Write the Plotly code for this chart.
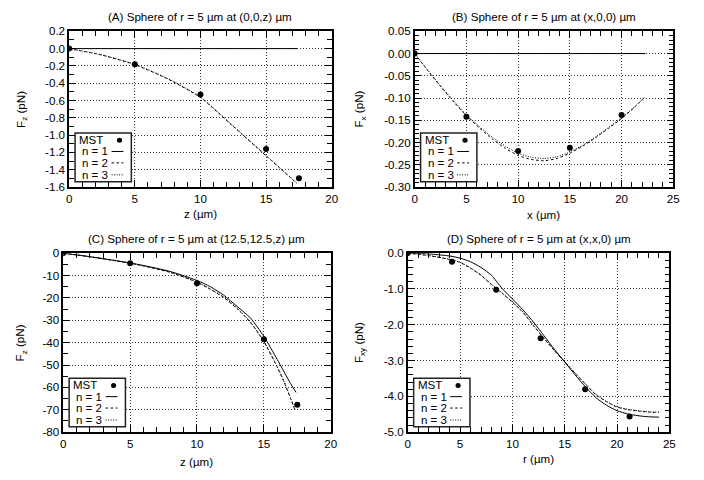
import plotly.graph_objects as go

# ---------------- data ----------------
# Panel A: sphere at (0,0,z)
a_mst_x = [0, 5, 10, 15, 17.5]
a_mst_y = [0.0, -0.18, -0.53, -1.16, -1.50]
a_n1_x = [0, 17.4]
a_n1_y = [0.0, 0.0]
a_n2_x = [0, 2.5, 5, 7.5, 10, 12.5, 15, 17.35]
a_n2_y = [0.0, -0.075, -0.185, -0.35, -0.565, -0.9, -1.24, -1.56]
a_n3_x = [0, 2.5, 5, 7.5, 10, 12.5, 15, 17.35]
a_n3_y = [0.0, -0.073, -0.182, -0.345, -0.56, -0.895, -1.235, -1.555]

# Panel B: sphere at (x,0,0)
b_mst_x = [0, 5, 10, 15, 20]
b_mst_y = [0.0, -0.142, -0.219, -0.212, -0.138]
b_n1_x = [0, 22.3]
b_n1_y = [0.0, 0.0]
b_n_x = [0, 1.25, 2.5, 3.75, 5, 6.25, 7.5, 8.75, 10, 11.25, 12.5, 13.75, 15,
         16.25, 17.5, 18.75, 20, 21.25, 22.3]
b_n2_y = [0.0, -0.038, -0.074, -0.108, -0.140, -0.167, -0.192, -0.213, -0.229,
          -0.238, -0.241, -0.236, -0.224, -0.208, -0.189, -0.168, -0.146, -0.121, -0.097]
b_n3_y = [0.0, -0.037, -0.072, -0.106, -0.138, -0.164, -0.188, -0.208, -0.224,
          -0.233, -0.236, -0.232, -0.221, -0.206, -0.187, -0.166, -0.144, -0.120, -0.096]

# Panel C: sphere at (12.5,12.5,z)
c_mst_x = [0, 5, 10, 15, 17.5]
c_mst_y = [0.0, -4.5, -13.5, -38.5, -67.7]
c_n1_x = [0, 2, 4, 5, 6, 8, 10, 11, 12, 13, 14, 15, 16, 17, 17.4]
c_n1_y = [0.0, -1.6, -3.4, -4.4, -5.5, -8.2, -12.2, -15.0, -18.8, -23.8, -29.0,
          -37.2, -47.5, -58.3, -62.2]
c_n2_x = [0, 2, 4, 5, 6, 8, 10, 11, 12, 13, 14, 15, 16, 16.5, 17, 17.35]
c_n2_y = [0.0, -1.6, -3.5, -4.5, -5.7, -8.6, -13.0, -16.2, -19.8, -24.8, -31.0,
          -39.5, -51.0, -57.5, -65.0, -70.5]
c_n3_y = [0.0, -1.6, -3.5, -4.5, -5.7, -8.5, -12.9, -16.0, -19.6, -24.6, -30.8,
          -39.3, -50.7, -57.2, -64.7, -70.2]

# Panel D: sphere at (x,x,0)
d_mst_x = [0, 4.23, 8.45, 12.7, 16.95, 21.2]
d_mst_y = [0.0, -0.24, -1.02, -2.38, -3.80, -4.56]
d_n_x = [0, 2, 4, 5, 6, 7, 8, 9, 10, 11, 12, 13, 14, 15, 16, 17, 18, 19, 20,
         21, 22, 23, 24]
d_n1_y = [0.0, -0.02, -0.08, -0.14, -0.24, -0.40, -0.62, -0.98, -1.28, -1.58,
          -1.92, -2.30, -2.68, -3.04, -3.40, -3.74, -4.04, -4.25, -4.40, -4.49,
          -4.54, -4.57, -4.58]
d_n2_y = [0.0, -0.07, -0.18, -0.26, -0.42, -0.62, -0.88, -1.12, -1.37, -1.65,
          -2.02, -2.38, -2.72, -3.04, -3.36, -3.66, -3.96, -4.15, -4.30, -4.37,
          -4.41, -4.44, -4.45]
d_n3_y = [0.0, -0.065, -0.17, -0.25, -0.41, -0.61, -0.87, -1.11, -1.36, -1.64,
          -2.01, -2.37, -2.71, -3.03, -3.35, -3.66, -3.95, -4.14, -4.29, -4.36,
          -4.40, -4.43, -4.44]

titles = ["(A) Sphere of r = 5 µm at (0,0,z) µm",
          "(B) Sphere of r = 5 µm at (x,0,0) µm",
          "(C) Sphere of r = 5 µm at (12.5,12.5,z) µm",
          "(D) Sphere of r = 5 µm at (x,x,0) µm"]
xtitles = ["z (µm)", "x (µm)", "z (µm)", "r (µm)"]
ytitles = ["F<sub>z</sub> (pN)", "F<sub>x</sub> (pN)", "F<sub>z</sub> (pN)", "F<sub>xy</sub> (pN)"]
legend_labels = ["MST", "n = 1", "n = 2", "n = 3"]

a_yticks = [0.2, 0.0, -0.2, -0.4, -0.6, -0.8, -1.0, -1.2, -1.4, -1.6]
a_ylabels = ["0.2", "0.0", "-0.2", "-0.4", "-0.6", "-0.8", "-1.0", "-1.2", "-1.4", "-1.6"]
b_yticks = [0.05, 0.0, -0.05, -0.10, -0.15, -0.20, -0.25, -0.30]
b_ylabels = ["0.05", "0.00", "-0.05", "-0.10", "-0.15", "-0.20", "-0.25", "-0.30"]
c_yticks = [0, -10, -20, -30, -40, -50, -60, -70, -80]
c_ylabels = ["0", "-10", "-20", "-30", "-40", "-50", "-60", "-70", "-80"]
d_yticks = [0, -1, -2, -3, -4, -5]
d_ylabels = ["0.0", "-1.0", "-2.0", "-3.0", "-4.0", "-5.0"]
x20_ticks = [0, 5, 10, 15, 20]
x25_ticks = [0, 5, 10, 15, 20, 25]

# minor tick steps (x, y) per panel
minor_steps = [(1, 0.1), (1, 0.01), (1, 5), (1, 0.2)]

# ---------------- layout geometry (pixels) ----------------
W, H = 704, 480
FONT = "Liberation Sans, Arial, sans-serif"
boxes = [(67, 333, 25, 185), (417, 679, 25, 185),
         (61, 332, 253, 437), (410, 675, 253, 437)]
title_y = [10, 10, 238, 238]
xtitle_y = [212, 213, 467, 464]
ytitle_x = [18, 361, 18, 361]

DASH2 = "2.5px,2.5px"
DASH3 = "1px,1.5px"
GRID_DASH = "1px,2px"
TXT = 11.6

fig = go.Figure()

def px(x):
    return x / W

def py(y):
    return 1 - y / H

series = [
    (a_mst_x, a_mst_y, [(a_n1_x, a_n1_y), (a_n2_x, a_n2_y), (a_n3_x, a_n3_y)]),
    (b_mst_x, b_mst_y, [(b_n1_x, b_n1_y), (b_n_x, b_n2_y), (b_n_x, b_n3_y)]),
    (c_mst_x, c_mst_y, [(c_n1_x, c_n1_y), (c_n2_x, c_n2_y), (c_n2_x, c_n3_y)]),
    (d_mst_x, d_mst_y, [(d_n_x, d_n1_y), (d_n_x, d_n2_y), (d_n_x, d_n3_y)]),
]
dashes = ["solid", DASH2, DASH3]

for i, (mx, my, lines) in enumerate(series):
    xa = "x" if i == 0 else f"x{i+1}"
    ya = "y" if i == 0 else f"y{i+1}"
    for (lx, ly), dsh, name in zip(lines, dashes, legend_labels[1:]):
        fig.add_trace(go.Scatter(x=lx, y=ly, mode="lines", name=name, xaxis=xa, yaxis=ya,
                                 line=dict(color="black", width=1, dash=dsh, shape="spline",
                                           smoothing=0.6),
                                 showlegend=False, hoverinfo="skip"))
    fig.add_trace(go.Scatter(x=mx, y=my, mode="markers", name="MST", xaxis=xa, yaxis=ya,
                             marker=dict(color="black", size=6), showlegend=False))

xranges = [[0, 20], [0, 25], [0, 20], [0, 25]]
yranges = [[-1.6, 0.2], [-0.30, 0.05], [-80, 0], [-5, 0]]
xticks = [x20_ticks, x25_ticks, x20_ticks, x25_ticks]
yticks = [(a_yticks, a_ylabels), (b_yticks, b_ylabels), (c_yticks, c_ylabels), (d_yticks, d_ylabels)]

layout = dict(width=W, height=H, margin=dict(l=0, r=0, t=0, b=0),
              paper_bgcolor="white", plot_bgcolor="white",
              font=dict(family=FONT, size=11, color="black"),
              showlegend=False)

common = dict(showline=True, linecolor="black", linewidth=1.5, mirror="allticks",
              ticks="inside", ticklen=7, tickcolor="black", tickwidth=1,
              showgrid=True, gridcolor="#333", gridwidth=1, griddash=GRID_DASH,
              zeroline=False, tickfont=dict(family=FONT, size=TXT, color="black"))

shapes = []
annotations = []
for i in range(4):
    l, r, t, b = boxes[i]
    suf = "" if i == 0 else str(i + 1)
    msx, msy = minor_steps[i]
    layout["xaxis" + suf] = dict(common, domain=[px(l), px(r)], range=xranges[i],
                                 anchor="y" + suf, tickmode="array", tickvals=xticks[i],
                                 ticktext=[str(v) for v in xticks[i]],
                                 minor=dict(ticks="inside", ticklen=5, tickcolor="black",
                                            tickwidth=1, tickmode="linear", dtick=msx, tick0=0,
                                            showgrid=False))
    tv, tt = yticks[i]
    layout["yaxis" + suf] = dict(common, domain=[py(b), py(t)], range=yranges[i],
                                 anchor="x" + suf, tickmode="array", tickvals=tv, ticktext=tt,
                                 minor=dict(ticks="inside", ticklen=5, tickcolor="black",
                                            tickwidth=1, tickmode="linear", dtick=msy, tick0=0,
                                            showgrid=False))
    annotations.append(dict(text=titles[i], x=px((l + r) / 2), y=py(title_y[i]), xref="paper",
                            yref="paper", showarrow=False, xanchor="center", yanchor="middle",
                            font=dict(size=TXT)))
    annotations.append(dict(text=xtitles[i], x=px((l + r) / 2), y=py(xtitle_y[i]), xref="paper",
                            yref="paper", showarrow=False, xanchor="center", yanchor="middle",
                            font=dict(size=TXT)))
    annotations.append(dict(text=ytitles[i], x=px(ytitle_x[i]), y=py((t + b) / 2), xref="paper",
                            yref="paper", showarrow=False, xanchor="center", yanchor="middle",
                            textangle=-90, font=dict(size=TXT)))
    # legend box
    bl = l + 6
    bb = b - 5.5
    bw, bh = 57, 50
    bt = bb - bh
    shapes.append(dict(type="rect", xref="paper", yref="paper", x0=px(bl), x1=px(bl + bw),
                       y0=py(bb), y1=py(bt), line=dict(color="#222", width=1.5),
                       fillcolor="white", layer="above"))
    rows = [bt + 7.5, bt + 19, bt + 30.7, bt + 43]
    for k, lab in enumerate(legend_labels):
        annotations.append(dict(text=lab, x=px(bl + (2 if k == 0 else 5)), y=py(rows[k]),
                                xref="paper", yref="paper", showarrow=False, xanchor="left",
                                yanchor="middle", font=dict(size=11.5)))
        if k == 0:
            shapes.append(dict(type="circle", xref="paper", yref="paper",
                               x0=px(bl + 45 - 2.6), x1=px(bl + 45 + 2.6),
                               y0=py(rows[k] + 2.6), y1=py(rows[k] - 2.6),
                               fillcolor="black", line=dict(color="black", width=0),
                               layer="above"))
        else:
            shapes.append(dict(type="line", xref="paper", yref="paper",
                               x0=px(bl + 37), x1=px(bl + 49), y0=py(rows[k]), y1=py(rows[k]),
                               line=dict(color="black", width=1, dash=dashes[k - 1]),
                               layer="above"))

layout["shapes"] = shapes
layout["annotations"] = annotations
fig.update_layout(**layout)
fig.write_html("out.html")
